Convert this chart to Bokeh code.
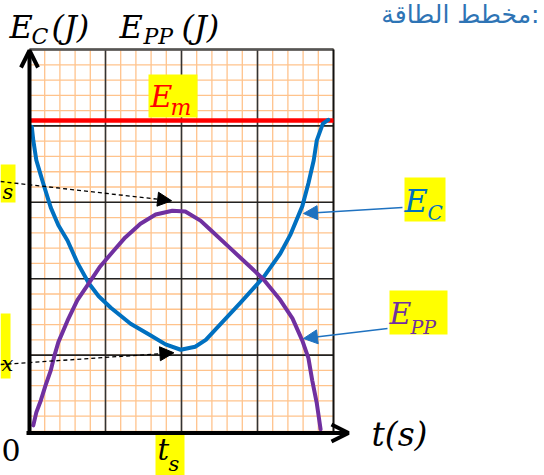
import numpy as np
from bokeh.plotting import figure
from bokeh.models import Range1d, Label, Arrow, NormalHead, OpenHead
from bokeh.embed import file_html
from bokeh.resources import INLINE

# ---- data (time and energy in major grid units) ----
t_ec = [0.03, 0.05, 0.09, 0.15, 0.18, 0.28, 0.38, 0.50, 0.63, 0.78, 0.91, 1.07, 1.33, 1.59, 1.79,
        1.99, 2.18, 2.32, 2.47, 2.78, 3.08, 3.30, 3.43, 3.59, 3.67, 3.74, 3.78, 3.86, 3.93]
ec = [3.99, 3.81, 3.55, 3.35, 3.25, 2.93, 2.70, 2.50, 2.21, 1.94, 1.77, 1.62, 1.41, 1.26, 1.14,
      1.07, 1.11, 1.20, 1.36, 1.69, 2.02, 2.33, 2.57, 2.95, 3.25, 3.55, 3.81, 4.03, 4.08]

t_epp = [0.05, 0.09, 0.15, 0.21, 0.28, 0.33, 0.38, 0.50, 0.63, 0.78, 0.93, 1.11, 1.26, 1.46, 1.66,
         1.88, 2.05, 2.25, 2.38, 2.64, 2.91, 3.08, 3.30, 3.46, 3.59, 3.67, 3.72, 3.78, 3.83]
epp = [0.08, 0.25, 0.41, 0.60, 0.80, 1.00, 1.17, 1.45, 1.72, 1.94, 2.16, 2.37, 2.54, 2.72, 2.84,
       2.89, 2.88, 2.76, 2.64, 2.40, 2.15, 1.99, 1.72, 1.48, 1.19, 0.96, 0.67, 0.37, 0.03]

em_value = 4.07
t_span = [0.0, 4.0]
ts_value = 1.95
ec_min = 1.03
epp_max = 3.02

x_major = [0, 1, 2, 3, 4]
y_major = [0, 1, 2, 3, 4, 5]
x_minor = [i * 0.2 for i in range(21)]
y_minor = [i * 0.2 for i in range(26)]

# ---- layout helpers (pixel -> data) ----
PX_X0, PX_Y0, SX, SY = 29.0, 431.0, 76.0, 76.4
W, H = 544, 475


def X(px):
    return (px - PX_X0) / SX


def Y(py):
    return (PX_Y0 - py) / SY


p = figure(width=W, height=H, output_backend="svg", toolbar_location=None,
           x_range=Range1d(X(0), X(W)), y_range=Range1d(Y(H), Y(0)),
           x_axis_location=None, y_axis_location=None, min_border=0)
p.outline_line_color = None
p.grid.visible = False
p.background_fill_color = "white"
p.border_fill_color = "white"

# minor grid (orange)
p.segment(x0=x_minor, y0=[0] * len(x_minor), x1=x_minor, y1=[5] * len(x_minor),
          line_color="#FFC38C", line_width=1.3)
p.segment(x0=[0] * len(y_minor), y0=y_minor, x1=[4] * len(y_minor), y1=y_minor,
          line_color="#FFC38C", line_width=1.3)
# major grid (dark)
p.segment(x0=x_major[1:-1], y0=[0] * 3, x1=x_major[1:-1], y1=[5] * 3,
          line_color="#333333", line_width=1.6)
p.segment(x0=[0] * 5, y0=y_major[1:], x1=[4] * 5, y1=y_major[1:],
          line_color="#222222", line_width=1.6)
p.segment(x0=[0], y0=[5], x1=[4], y1=[5], line_color="#555555", line_width=2.5)
p.segment(x0=[4], y0=[0], x1=[4], y1=[5], line_color="#111111", line_width=2)

# E_m line
p.line(t_span, [em_value, em_value], line_color="#FF0000", line_width=4.5)

# curves
p.line(t_ec, ec, line_color="#0070C0", line_width=4, line_join="round", line_cap="round")
p.line(t_epp, epp, line_color="#7030A0", line_width=4, line_join="round", line_cap="round")

# axes with arrows
p.add_layout(Arrow(end=OpenHead(size=17, line_width=4, line_color="black"),
                   x_start=0, y_start=Y(434), x_end=0, y_end=Y(50),
                   line_width=4, line_color="black"))
p.add_layout(Arrow(end=OpenHead(size=17, line_width=4, line_color="black"),
                   x_start=X(26), y_start=Y(432.5), x_end=X(348), y_end=Y(432.5),
                   line_width=4, line_color="black"))

# yellow boxes
boxes = [(148, 197, 74, 117), (404, 445, 177, 221), (389, 447, 290, 334),
         (155, 184, 431, 475), (0, 15, 164, 202), (0, 10, 313, 378)]
p.quad(left=[X(b[0]) for b in boxes], right=[X(b[1]) for b in boxes],
       top=[Y(b[2]) for b in boxes], bottom=[Y(b[3]) for b in boxes],
       fill_color="#FFFF00", line_color=None)

# dashed arrows to extremes
p.add_layout(Arrow(end=NormalHead(size=14, fill_color="black", line_color="black"),
                   x_start=X(0), y_start=Y(181), x_end=ts_value - 0.08, y_end=epp_max,
                   line_dash="4 3", line_width=1.3, line_color="black"))
p.add_layout(Arrow(end=NormalHead(size=14, fill_color="black", line_color="black"),
                   x_start=X(0), y_start=Y(364), x_end=ts_value - 0.05, y_end=ec_min,
                   line_dash="4 3", line_width=1.3, line_color="black"))

# blue label arrows
p.add_layout(Arrow(end=NormalHead(size=14, fill_color="#1F72C0", line_color="#1F72C0"),
                   x_start=X(402), y_start=Y(207), x_end=X(303), y_end=Y(213),
                   line_width=1.5, line_color="#1F72C0"))
p.add_layout(Arrow(end=NormalHead(size=14, fill_color="#1F72C0", line_color="#1F72C0"),
                   x_start=X(387), y_start=Y(328), x_end=X(303), y_end=Y(338),
                   line_width=1.5, line_color="#1F72C0"))

MF = "DejaVu Serif"


def lab(px, py, text, size, color="black", style="italic", font=MF, align="left"):
    # py is the wanted baseline; compensate for the label's own vertical offset
    p.add_layout(Label(x=X(px), y=Y(py - 0.36 * size), text=text, text_font=font,
                       text_font_size=f"{size}px", text_font_style=style,
                       text_color=color, text_align=align, text_baseline="alphabetic"))


# title
lab(9, 38, "E", 32)
lab(31, 44, "C", 22)
lab(51, 38, "(J)", 32)
lab(119, 38, "E", 32)
lab(143, 44, "PP", 22)
lab(181, 38, "(J)", 32)

# Arabic heading
lab(539, 23, "مخطط الطاقة:", 25, color="#2E74B5", style="normal", font="DejaVu Sans", align="right")

# E_m
lab(150, 107, "E", 30, color="#FF0000")
lab(170, 115, "m", 22, color="#FF0000")
# E_C
lab(404, 212, "E", 32, color="#0070C0")
lab(427, 220, "C", 20, color="#0070C0")
# E_PP
lab(389, 324, "E", 30, color="#7030A0")
lab(410, 333, "PP", 19, color="#7030A0")
# t_s
lab(157, 460, "t", 29)
lab(168, 471, "s", 21)
# left edge labels (only their ends are visible in the original)
lab(2, 199, "s", 21)
lab(1, 371, "x", 21)

# axis texts
lab(1, 460, "0", 30, style="normal")
lab(371, 446, "t(s)", 33)

open("out.html", "w").write(file_html(p, INLINE))
